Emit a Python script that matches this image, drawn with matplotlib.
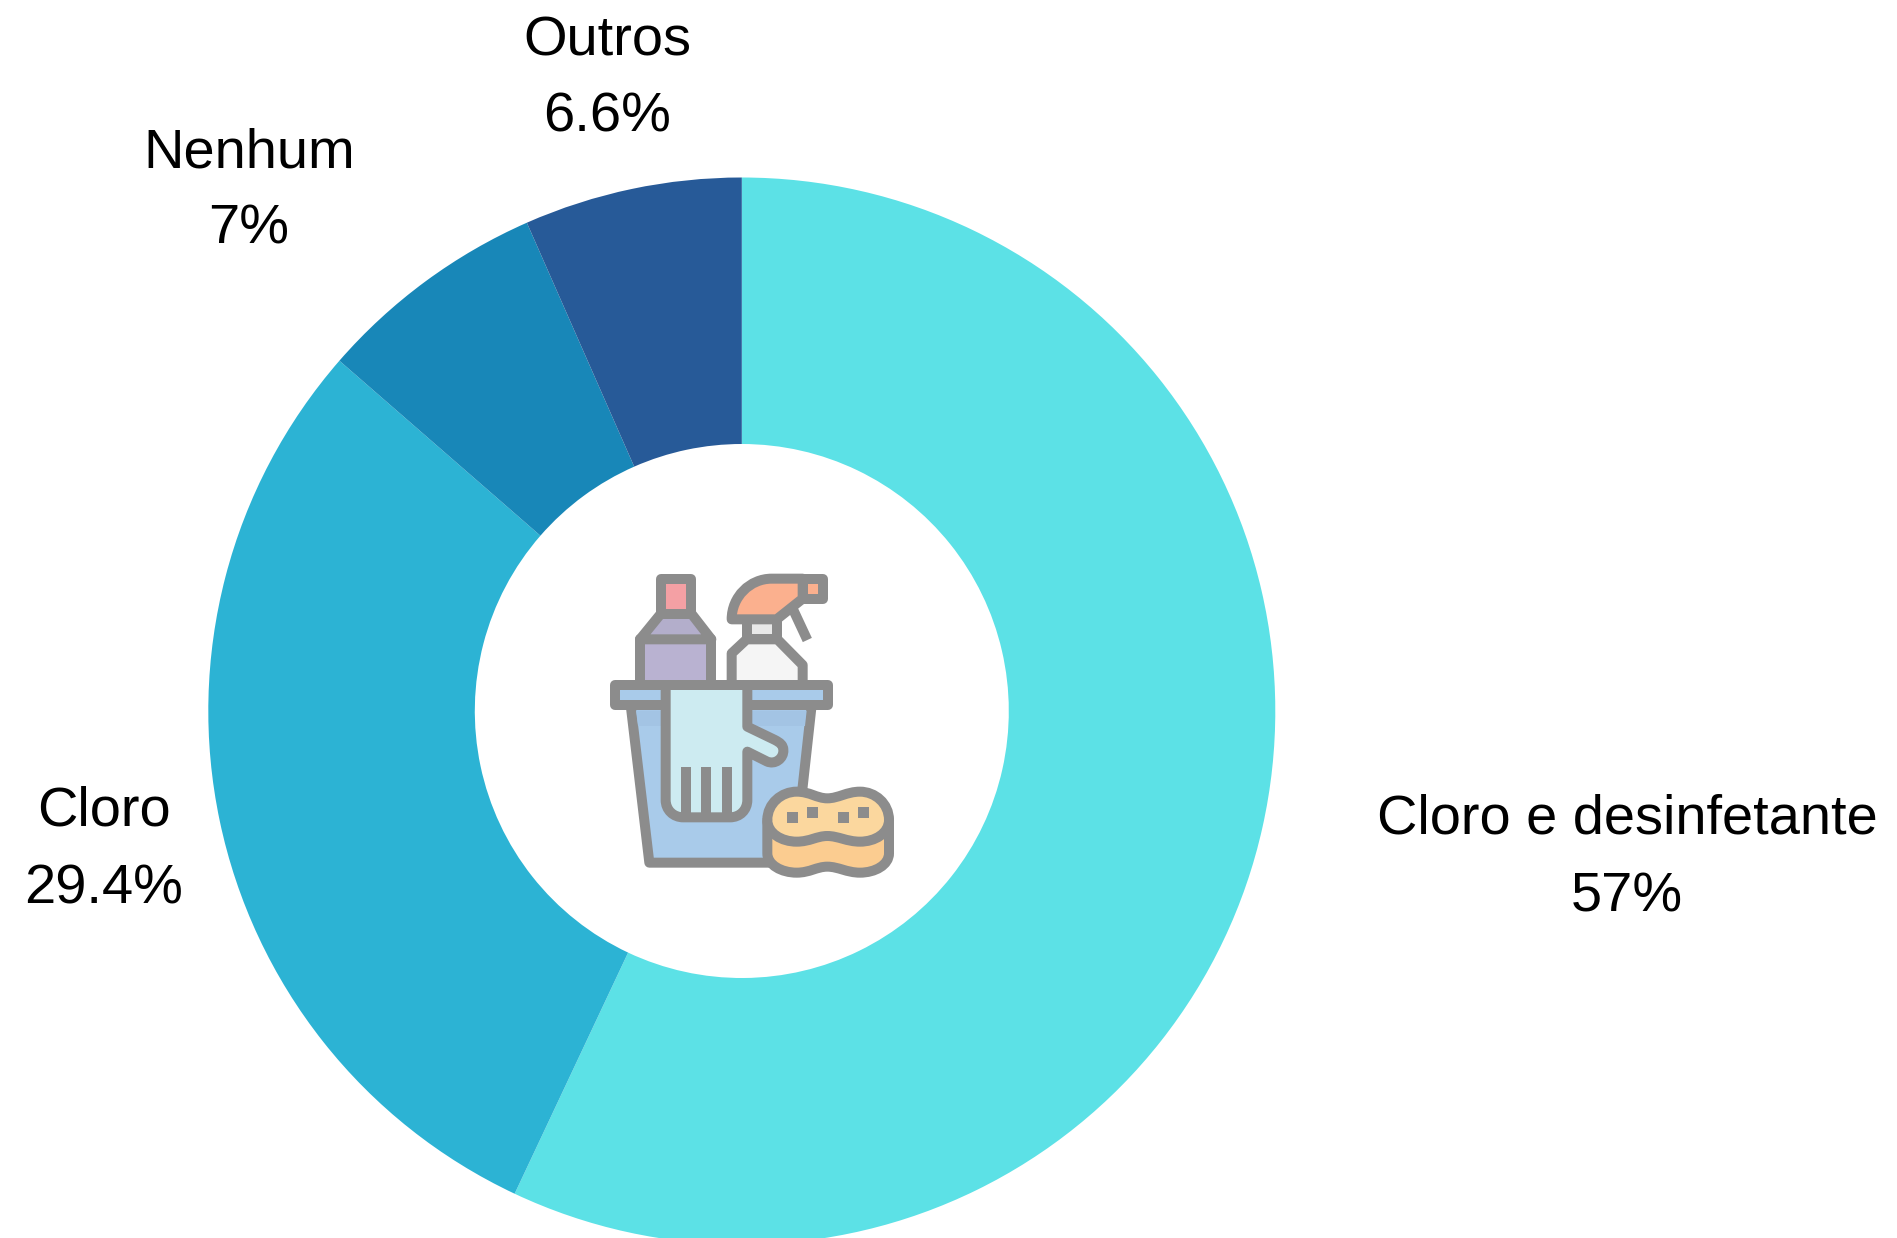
from matplotlib import pyplot as plt
from matplotlib.path import Path
from matplotlib.patches import PathPatch

LARGEUR = 1897
HAUTEUR = 1238

categories = ["Cloro e desinfetante", "Cloro", "Nenhum", "Outros"]
valeurs = [57, 29.4, 7, 6.6]
etiquettes = ["57%", "29.4%", "7%", "6.6%"]
couleurs = ["#5ce1e6", "#2cb3d4", "#1887b8", "#275a98"]

# position des textes en pixels: (x, y nom, y valeur)
positions = [(1627, 819, 897), (104, 811, 889), (249, 153, 230), (607, 41, 118)]

CENTRE = (741.8, 711)
R_EXT = 533.5
R_INT = 267

GRIS = "#8c8c8c"
TRAIT = 7.2

plt.rcParams["font.family"] = ["Liberation Sans", "DejaVu Sans"]

fig = plt.figure(figsize=(LARGEUR / 100, HAUTEUR / 100), dpi=100)

# camembert
ax = fig.add_axes([(CENTRE[0] - R_EXT) / LARGEUR, 1 - (CENTRE[1] + R_EXT) / HAUTEUR,
                   2 * R_EXT / LARGEUR, 2 * R_EXT / HAUTEUR])
ax.pie(valeurs, colors=couleurs, startangle=90, counterclock=False, radius=1,
       wedgeprops={"width": 1 - R_INT / R_EXT, "linewidth": 0})
ax.set_xlim(-1, 1)
ax.set_ylim(-1, 1)

# calque en pixels pour les textes et l'icone
calque = fig.add_axes([0, 0, 1, 1])
calque.set_xlim(0, LARGEUR)
calque.set_ylim(HAUTEUR, 0)
calque.axis("off")
calque.patch.set_alpha(0)

for i in range(len(categories)):
	x, y1, y2 = positions[i]
	calque.text(x, y1, categories[i], fontsize=40.3, ha="center", va="center", color="black")
	calque.text(x, y2, etiquettes[i], fontsize=40.3, ha="center", va="center", color="black")


def vers_pixels(p):
	return (590 + p[0] / 3, 550 + p[1] / 3)


def forme(points, codes, fc="none", trait=TRAIT, z=3):
	pts = [vers_pixels(p) for p in points]
	calque.add_patch(PathPatch(Path(pts, codes), facecolor=fc, edgecolor=GRIS, linewidth=trait,
							   joinstyle="round", capstyle="butt", zorder=z))


def polygone(points, fc, z=3):
	codes = [Path.MOVETO] + [Path.LINETO] * (len(points) - 1) + [Path.CLOSEPOLY]
	forme(points + [points[0]], codes, fc, z=z)


def rect(x0, y0, x1, y1, fc, z=3):
	polygone([(x0, y0), (x1, y0), (x1, y1), (x0, y1)], fc, z)


def ligne(x0, y0, x1, y1, z=6):
	forme([(x0, y0), (x1, y1)], [Path.MOVETO, Path.LINETO], z=z)


# seau
polygone([(122, 465), (665, 465), (638, 710), (600, 938), (178, 938)], "#a9cbea", z=2)
calque.add_patch(PathPatch(Path([vers_pixels(p) for p in [(138, 482), (650, 482), (645, 528), (144, 528), (138, 482)]]),
						   facecolor="#a3c4e4", edgecolor="none", zorder=2.5))

# bouteille de gauche
rect(150, 268, 364, 405, "#b9b2d1")
polygone([(212, 192), (305, 192), (364, 268), (150, 268)], "#b3aecb")
rect(212, 86, 303, 192, "#f4a0a4")

# vaporisateur
polygone([(425, 405), (425, 310), (470, 268), (562, 268), (638, 345), (638, 405)], "#f5f5f5")
rect(470, 208, 562, 268, "#e8e8e8")
ligne(610, 180, 652, 270, z=3)
forme([(425, 208), (425, 140), (480, 86), (545, 86), (638, 86), (638, 146), (560, 208), (425, 208)],
	  [Path.MOVETO, Path.CURVE4, Path.CURVE4, Path.CURVE4, Path.LINETO, Path.LINETO, Path.LINETO, Path.CLOSEPOLY],
	  "#fbb08e")
rect(638, 86, 700, 146, "#fbb08e")

# rebord
rect(75, 405, 714, 466, "#a9cbea", z=4)

# gant
forme([(227, 405), (227, 750), (227, 780), (250, 802), (280, 802), (420, 802), (450, 802), (472, 780), (472, 750),
	   (472, 605), (530, 634), (555, 646), (582, 625), (580, 600), (580, 585), (570, 578), (555, 570), (472, 530),
	   (472, 405), (227, 405)],
	  [Path.MOVETO, Path.LINETO, Path.CURVE4, Path.CURVE4, Path.CURVE4, Path.LINETO, Path.CURVE4, Path.CURVE4,
	   Path.CURVE4, Path.LINETO, Path.LINETO, Path.CURVE4, Path.CURVE4, Path.CURVE4, Path.CURVE4, Path.CURVE4,
	   Path.CURVE4, Path.LINETO, Path.LINETO, Path.CLOSEPOLY],
	  "#cdebf1", z=5)
ligne(288, 650, 288, 802)
ligne(348, 650, 348, 802)
ligne(410, 650, 410, 802)

# eponge
forme([(532, 810), (532, 910), (532, 945), (575, 968), (620, 968), (660, 968), (680, 950), (712, 950), (745, 950),
	   (770, 968), (810, 968), (855, 968), (897, 945), (897, 910), (897, 810), (532, 810)],
	  [Path.MOVETO, Path.LINETO, Path.CURVE4, Path.CURVE4, Path.CURVE4, Path.CURVE4, Path.CURVE4, Path.CURVE4,
	   Path.CURVE4, Path.CURVE4, Path.CURVE4, Path.CURVE4, Path.CURVE4, Path.CURVE4, Path.LINETO, Path.CLOSEPOLY],
	  "#fbcc90", z=7)
forme([(532, 810), (532, 760), (575, 725), (620, 725), (660, 725), (680, 745), (712, 745), (745, 745), (770, 725),
	   (810, 725), (855, 725), (897, 760), (897, 810), (897, 850), (855, 875), (810, 875), (770, 875), (745, 858),
	   (712, 858), (680, 858), (660, 875), (620, 875), (575, 875), (532, 850), (532, 810)],
	  [Path.MOVETO] + [Path.CURVE4] * 24,
	  "#fbd79e", z=8)
for x, y in [(590, 785), (651, 770), (743, 785), (804, 770)]:
	pts = [vers_pixels(p) for p in [(x, y), (x + 34, y), (x + 34, y + 34), (x, y + 34), (x, y)]]
	calque.add_patch(PathPatch(Path(pts), facecolor=GRIS, edgecolor="none", zorder=9))

fig.savefig("out.png", dpi=100)
